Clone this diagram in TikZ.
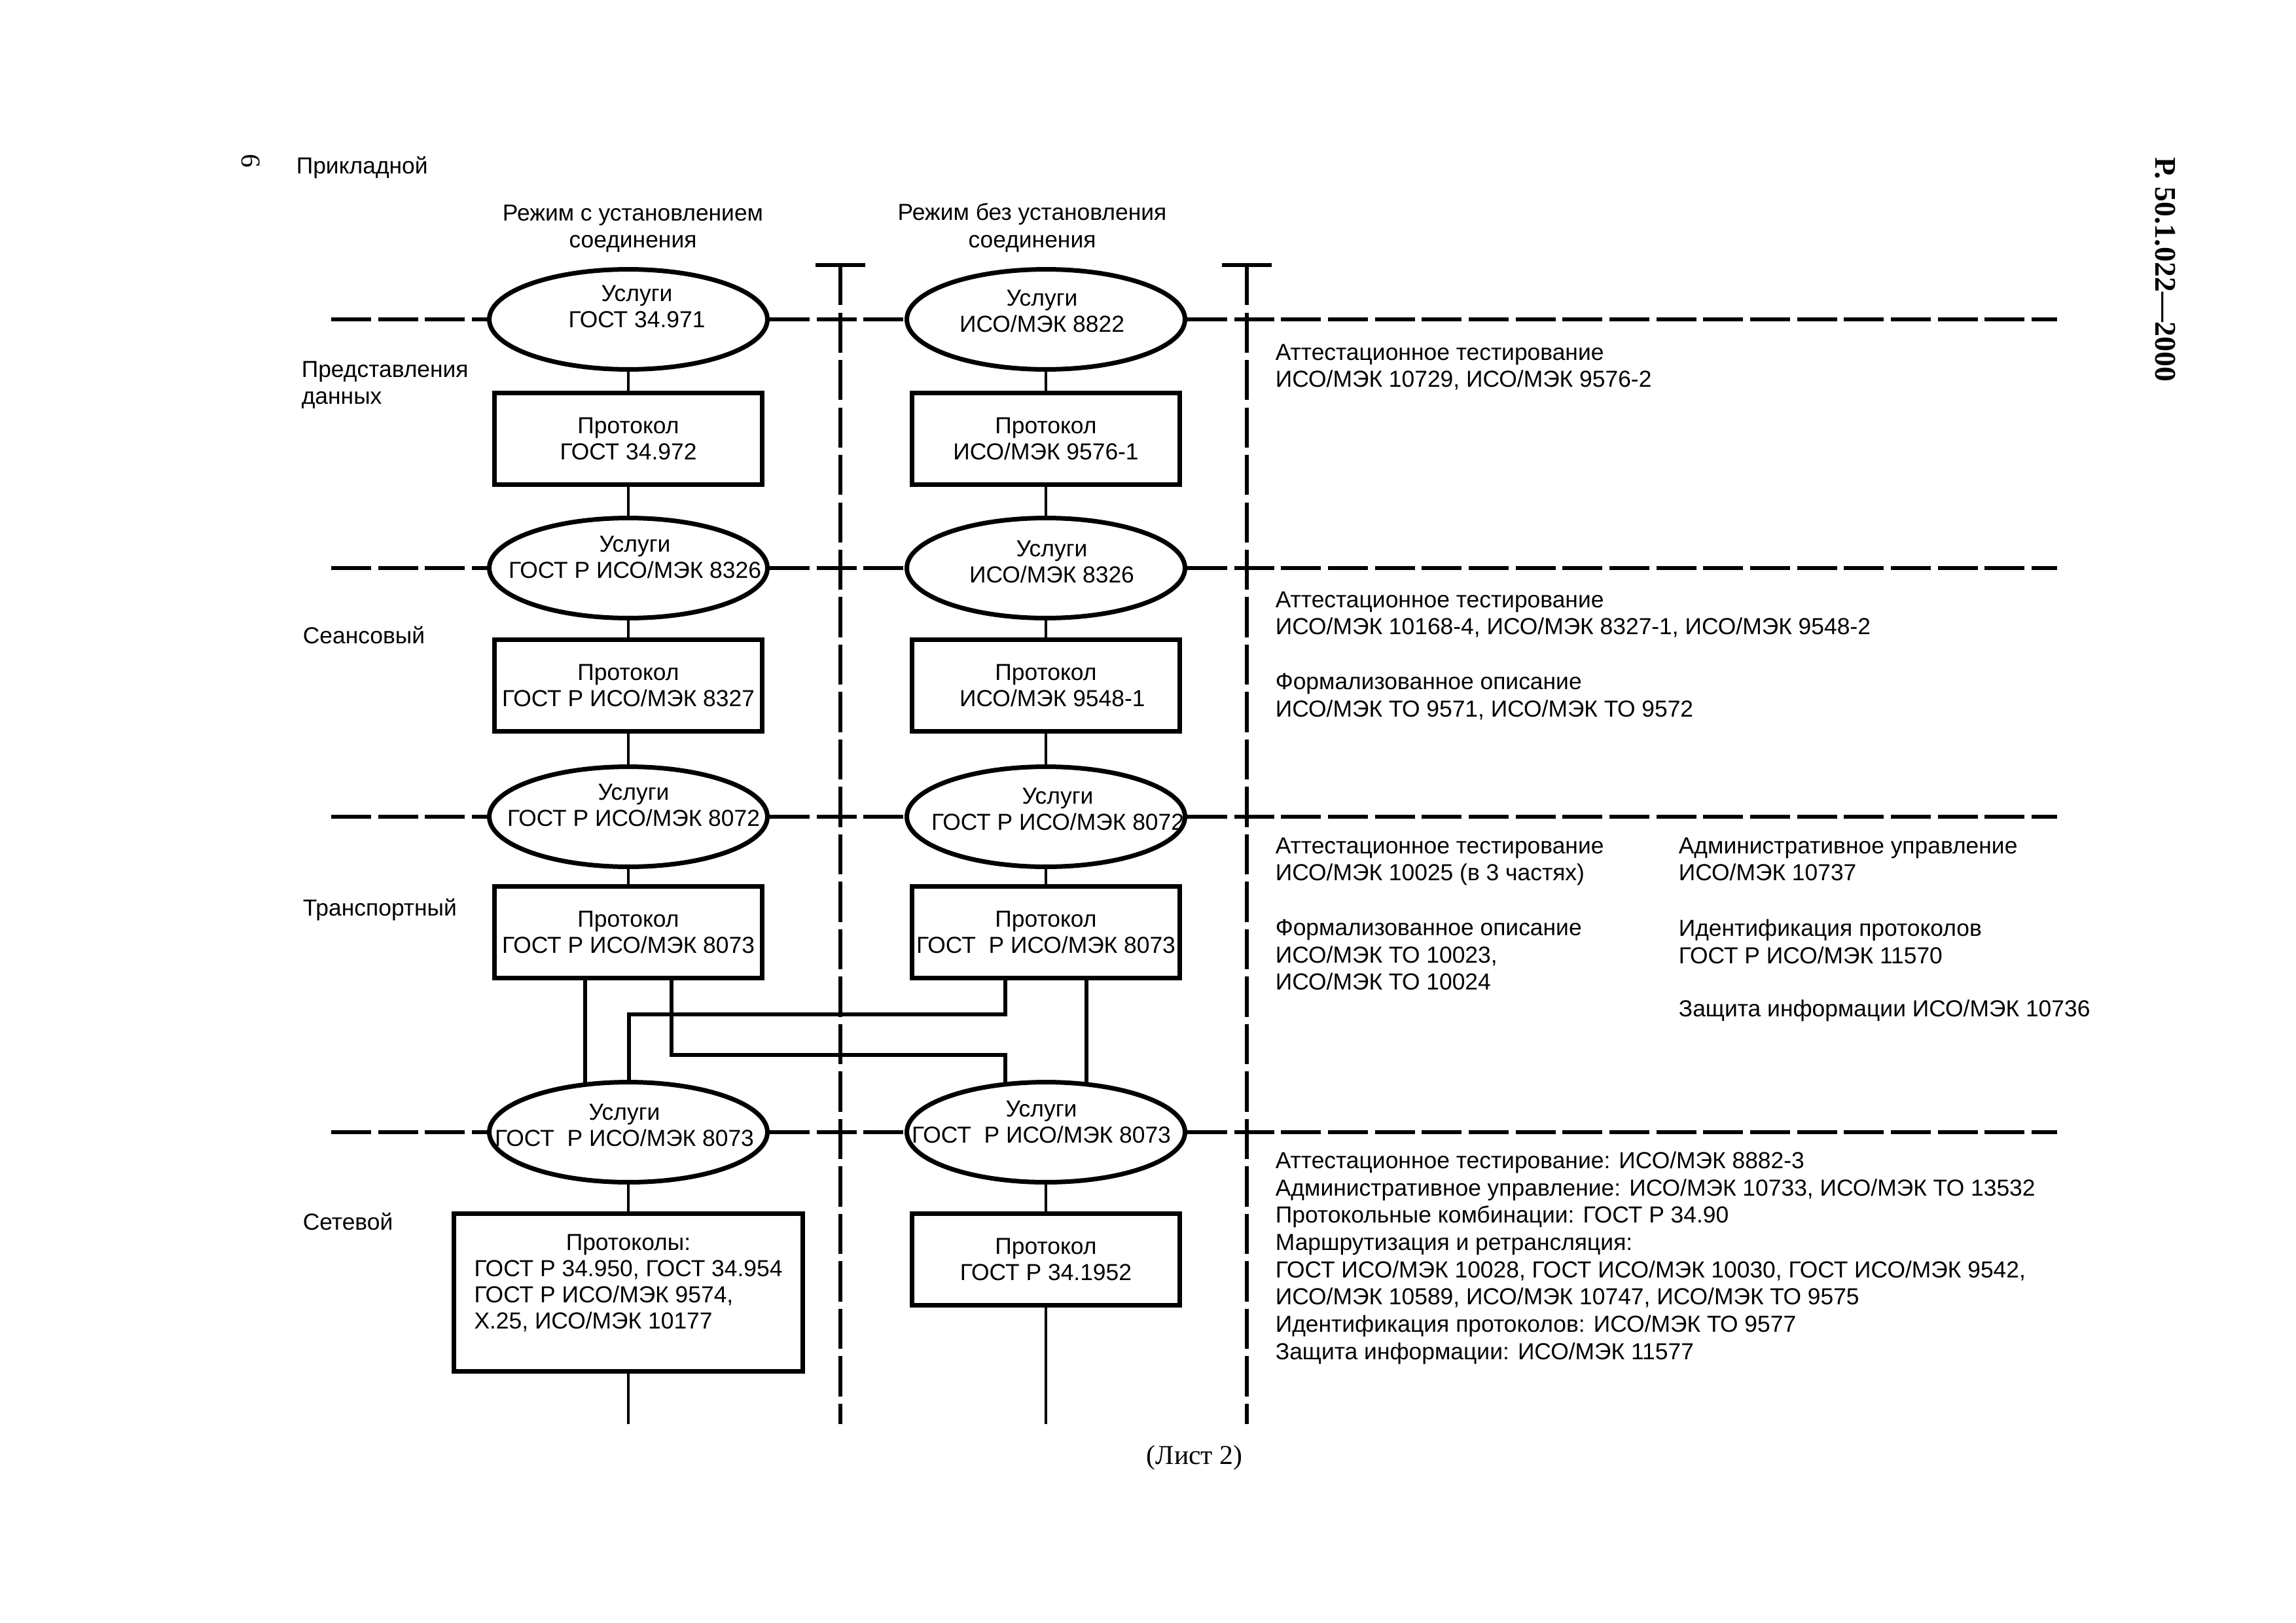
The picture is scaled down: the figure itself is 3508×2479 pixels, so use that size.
\documentclass[tikz,border=0pt]{standalone}
\usepackage{fontspec}
\setmainfont{Liberation Sans}
\newfontfamily\timesru{Liberation Serif}
\usetikzlibrary{shapes.geometric}

\begin{document}
\begin{tikzpicture}[x=0.24pt, y=-0.24pt,
  every node/.style={inner sep=0pt, font=\fontsize{8.5}{9.6}\selectfont},
  svc/.style={ellipse, draw, line width=1.68pt, fill=white, minimum width=102pt, minimum height=36.7pt},
  proto/.style={rectangle, draw, line width=1.68pt, fill=white, minimum width=98pt, minimum height=33.6pt, align=center},
  svctext/.style={align=center},
  lvl/.style={line width=1.44pt, dash pattern=on 14.6pt off 2.6pt},
  divider/.style={line width=1.44pt, dash pattern=on 14.7pt off 2.7pt},
  link/.style={line width=1.1pt},
  cross/.style={line width=1.5pt},
  note/.style={anchor=north west, align=left, font=\fontsize{8.5}{10}\selectfont},
  lbl/.style={anchor=base west}]
\useasboundingbox (0,0) rectangle (3508,2479);

\node[font=\timesru\fontsize{10}{12}\selectfont, rotate=-90] (pg) at (383,246) {6};
\node[font=\timesru\bfseries\fontsize{11}{13}\selectfont, rotate=-90] (doc) at (3308,412) {Р. 50.1.022—2000};
\node[font=\timesru\fontsize{10}{12}\selectfont] (sheet) at (1825,2227) {(Лист 2)};

\node[lbl] (app) at (452,265) {Прикладной};
\node[note, font=\fontsize{8.5}{10}\selectfont] (prs) at (460,551) {Представления\\данных};
\node[lbl] (ses) at (462,983) {Сеансовый};
\node[lbl] (trn) at (462,1399) {Транспортный};
\node[lbl] (net) at (462,1879) {Сетевой};

\node[align=center, anchor=north, font=\fontsize{8.5}{10}\selectfont] (hd1) at (967,312) {Режим с установлением\\соединения};
\node[align=center, anchor=north, font=\fontsize{8.5}{10}\selectfont] (hd2) at (1577,310) {Режим без установления\\соединения};

\coordinate (d1t) at (1284,405);
\coordinate (d1b) at (1284,2176);
\coordinate (d2t) at (1905,405);
\coordinate (d2b) at (1905,2176);

\coordinate (l1w) at (506,488);
\coordinate (l1e) at (3143,488);
\coordinate (l2w) at (506,868);
\coordinate (l2e) at (3143,868);
\coordinate (l3w) at (506,1248);
\coordinate (l3e) at (3143,1248);
\coordinate (l4w) at (506,1730);
\coordinate (l4e) at (3143,1730);

\node[svc] (s11) at (960,488) {};
\node[svc] (s12) at (1598,488) {};
\node[svc] (s21) at (960,868) {};
\node[svc] (s22) at (1598,868) {};
\node[svc] (s31) at (960,1248) {};
\node[svc] (s32) at (1598,1248) {};
\node[svc] (s41) at (960,1730) {};
\node[svc] (s42) at (1598,1730) {};

\draw[lvl] (l1w) -- (s11) (s11) -- (s12) (s12) -- (l1e);
\draw[lvl] (l2w) -- (s21) (s21) -- (s22) (s22) -- (l2e);
\draw[lvl] (l3w) -- (s31) (s31) -- (s32) (s32) -- (l3e);
\draw[lvl] (l4w) -- (s41) (s41) -- (s42) (s42) -- (l4e);

\draw[divider] (d1t) -- (d1b);
\draw[divider] (d2t) -- (d2b);
\draw[line width=1.44pt] ([xshift=-9.1pt]d1t) -- ([xshift=9.1pt]d1t);
\draw[line width=1.44pt] ([xshift=-9.1pt]d2t) -- ([xshift=9.1pt]d2t);

\node[svctext] (t11) at (973,468) {Услуги\\ГОСТ 34.971};
\node[svctext] (t12) at (1592,475) {Услуги\\ИСО/МЭК 8822};
\node[svctext] (t21) at (970,851) {Услуги\\ГОСТ Р ИСО/МЭК 8326};
\node[svctext] (t22) at (1607,858) {Услуги\\ИСО/МЭК 8326};
\node[svctext] (t31) at (968,1230) {Услуги\\ГОСТ Р ИСО/МЭК 8072};
\node[svctext] (t32) at (1616,1236) {Услуги\\ГОСТ Р ИСО/МЭК 8072};
\node[svctext] (t41) at (954,1719) {Услуги\\ГОСТ\ \ Р ИСО/МЭК 8073};
\node[svctext] (t42) at (1591,1714) {Услуги\\ГОСТ\ \ Р ИСО/МЭК 8073};

\node[proto] (p11) at (960,670) {Протокол\\ГОСТ 34.972};
\node[proto] (p12) at (1598,670) {Протокол\\ИСО/МЭК 9576-1};
\node[proto] (p21) at (960,1047) {Протокол\\ГОСТ Р ИСО/МЭК 8327};
\node[proto] (p22) at (1598,1047) {Протокол\\\ \ ИСО/МЭК 9548-1};
\node[proto] (p31) at (960,1424) {Протокол\\ГОСТ Р ИСО/МЭК 8073};
\node[proto] (p32) at (1598,1424) {Протокол\\ГОСТ\ \ Р ИСО/МЭК 8073};
\node[proto, minimum width=127.9pt, minimum height=57.8pt] (p41) at (960,1975) {\begin{tabular}{@{}l@{}}\multicolumn{1}{@{}c@{}}{Протоколы:}\\ГОСТ Р 34.950, ГОСТ 34.954\\ГОСТ Р ИСО/МЭК 9574,\\X.25, ИСО/МЭК 10177\\[6pt]\end{tabular}};
\node[proto] (p42) at (1598,1924) {Протокол\\ГОСТ Р 34.1952};

\coordinate (e41) at (960,2176);
\coordinate (e42) at (1598,2176);

\draw[link] (s11) -- (p11) (p11) -- (s21) (s21) -- (p21) (p21) -- (s31) (s31) -- (p31);
\draw[link] (s12) -- (p12) (p12) -- (s22) (s22) -- (p22) (p22) -- (s32) (s32) -- (p32);
\draw[link] (s41) -- (p41) (p41) -- (e41);
\draw[link] (s42) -- (p42) (p42) -- (e42);

\coordinate (ca) at (894,1600);
\coordinate (cb1) at (1026,1612);
\coordinate (cb2) at (1536,1612);
\coordinate (cc1) at (1536,1550);
\coordinate (cc2) at (961,1550);
\coordinate (cd) at (1660,1600);
\draw[cross] (p31.south -| ca) -- ([yshift=-1pt]s41.north -| ca);
\draw[cross] (p31.south -| cb1) -- (cb1) -- (cb2) -- ([yshift=-1pt]s42.north -| cb2);
\draw[cross] (p32.south -| cc1) -- (cc1) -- (cc2) -- ([yshift=-1pt]s41.north -| cc2);
\draw[cross] (p32.south -| cd) -- ([yshift=-1pt]s42.north -| cd);

\node[note] (ts1) at (1948,525) {Аттестационное тестирование\\ИСО/МЭК 10729, ИСО/МЭК 9576-2};
\node[note] (ts2) at (1948,903) {Аттестационное тестирование\\ИСО/МЭК 10168-4, ИСО/МЭК 8327-1, ИСО/МЭК 9548-2};
\node[note] (fd2) at (1948,1028) {Формализованное описание\\ИСО/МЭК ТО 9571, ИСО/МЭК ТО 9572};
\node[note] (ts3) at (1948,1279) {Аттестационное тестирование\\ИСО/МЭК 10025 (в 3 частях)};
\node[note] (fd3) at (1948,1404) {Формализованное описание\\ИСО/МЭК ТО 10023,\\ИСО/МЭК ТО 10024};
\node[note] (ad3) at (2564,1279) {Административное управление\\ИСО/МЭК 10737};
\node[note] (id3) at (2564,1404) {Идентификация протоколов\\ГОСТ Р ИСО/МЭК 11570};
\node[note] (zi3) at (2564,1527) {Защита информации ИСО/МЭК 10736};
\node[note] (nt4) at (1948,1759) {Аттестационное тестирование: ИСО/МЭК 8882-3\\Административное управление: ИСО/МЭК 10733, ИСО/МЭК ТО 13532\\Протокольные комбинации: ГОСТ Р 34.90\\Маршрутизация и ретрансляция:\\ГОСТ ИСО/МЭК 10028, ГОСТ ИСО/МЭК 10030, ГОСТ ИСО/МЭК 9542,\\ИСО/МЭК 10589, ИСО/МЭК 10747, ИСО/МЭК ТО 9575\\Идентификация протоколов: ИСО/МЭК ТО 9577\\Защита информации: ИСО/МЭК 11577};
\end{tikzpicture}
\end{document}
